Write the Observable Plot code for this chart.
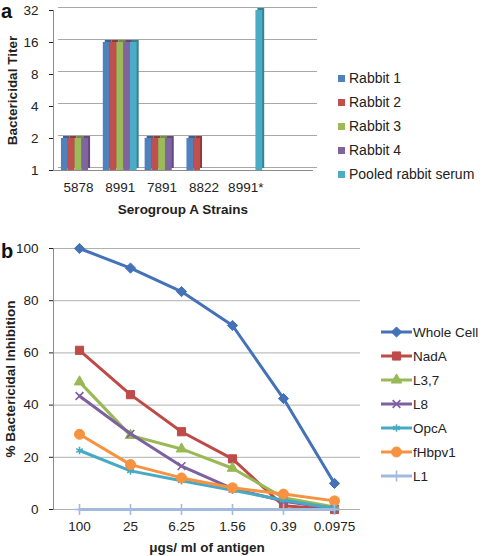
<!DOCTYPE html>
<html><head><meta charset="utf-8">
<script src="https://cdn.jsdelivr.net/npm/d3@7"></script>
<script src="https://cdn.jsdelivr.net/npm/@observablehq/plot@0.6"></script>
<style>
body{margin:0;background:#fff;font-family:"Liberation Sans",Arial,sans-serif;}
#wrap{position:relative;width:482px;height:556px;overflow:hidden;background:#fff}
.layer{position:absolute;left:0}
.panel{position:absolute;font-weight:bold;font-size:20px;line-height:1.15;color:#111}
.legend{position:absolute;color:#222}
.legend .row{display:flex;align-items:center;height:24px;white-space:nowrap}
#wrap svg g[aria-label$="axis label"] text{font-weight:bold}
</style></head><body><div id="wrap"></div>
<script>
// ---- Panel a data ----
const strains = ["5878","8991","7891","8822","8991*"];
const strainSlots = ["5878","8991","7891","8822","8991*",""];
const rabbitSeries = ["Rabbit 1","Rabbit 2","Rabbit 3","Rabbit 4","Pooled rabbit serum"];
const rabbit1 = [2,16,2,2,null];
const rabbit2 = [2,16,2,2,null];
const rabbit3 = [2,16,2,1,null];
const rabbit4 = [2,16,2,1,null];
const pooled  = [null,16,null,null,32];
const titerTicks = [1,2,4,8,16,32];

// ---- Panel b data ----
const doses = ["100","25","6.25","1.56","0.39","0.0975"];
const inhibitionSeries = ["Whole Cell","NadA","L3,7","L8","OpcA","fHbpv1","L1"];
const wholeCell = [100,92.5,83.5,70.5,42.5,10];
const nadA      = [61,44,29.8,19.4,1.4,0];
const l37       = [48.9,28.4,23.2,15.8,4.5,1];
const l8        = [43.5,29,16.6,8,3.2,0.4];
const opcA      = [22.6,14.8,11,7.4,3.6,0.4];
const fHbpv1    = [28.8,17.2,12.1,8.3,5.9,3.3];
const l1        = [0,0,0,0,0,0];
const inhibitionTicks = [0,20,40,60,80,100];

// ---- styles ----
const rabbitColors = ["#4F81BD","#C0504D","#9BBB59","#8064A2","#4BACC6"];
const lineColors = ["#4472B8","#BE4B48","#98B954","#7D60A0","#46AAC5","#F69240","#A2BBDD"];
const lineSymbols = ["diamond2","square","triangle","times","asterisk","circle","plus"];
const symbolRadius = [4.6,4.6,3.9,3.6,3.6,5,3.6];
const strokedSymbol = [false,false,false,true,true,false,true];
const font = '"Liberation Sans", Arial, sans-serif';

const wrap = document.getElementById("wrap");
const W = 482, H1 = 232, H2 = 324;

// ---- Panel a ----
const rabbitValues = [rabbit1, rabbit2, rabbit3, rabbit4, pooled];
const barRows = [];
strains.forEach((s, i) => rabbitSeries.forEach((r, j) => {
  const v = rabbitValues[j][i];
  if (v != null) barRows.push({strain: s, series: r, titer: v});
}));
const colorOf = Object.fromEntries(rabbitSeries.map((s, i) => [s, rabbitColors[i]]));
const dims1 = {width: W, height: H1, marginLeft: 53, marginRight: 170, marginTop: 10, marginBottom: 62};
const yTiter = {type: "log", base: 2, domain: [1, 32]};
const bandPad = {paddingInner: 0.19, paddingOuter: 0.19, round: false};

const gridA = Plot.plot({
  ...dims1,
  style: {fontFamily: font, fontSize: "13.5px", color: "#222", background: "transparent"},
  x: {type: "band", domain: strainSlots, ...bandPad, tickSize: 0, tickPadding: 12,
      label: "Serogroup A Strains", labelAnchor: "center", labelOffset: 43},
  y: {...yTiter, ticks: titerTicks, tickFormat: d => String(d), tickSize: 4, tickPadding: 11,
      label: "Bactericidal Titer", labelAnchor: "center", labelOffset: 46, labelArrow: false},
  marks: [
    Plot.ruleY(titerTicks, {stroke: "#a8a8a8", dx: 5, dy: -3}),
    Plot.frame({anchor: "left", stroke: "#8c8c8c"}),
    Plot.frame({anchor: "bottom", stroke: "#8c8c8c"})
  ]
});
gridA.classList.add("layer"); gridA.style.top = "0px";
wrap.appendChild(gridA);

const barsA = Plot.plot({
  ...dims1,
  style: {background: "transparent"},
  fx: {domain: strainSlots, ...bandPad, axis: null},
  x: {domain: rabbitSeries, padding: 0, round: false, axis: null},
  y: {...yTiter, axis: null},
  marks: [
    Plot.barY(barRows, {fx: "strain", x: "series", y1: () => 1, y2: "titer",
      fill: d => d3.color(colorOf[d.series]).darker(0.8).formatHex(), dx: 2, dy: -2}),
    Plot.barY(barRows, {fx: "strain", x: "series", y1: () => 1, y2: "titer",
      fill: d => colorOf[d.series]})
  ]
});
barsA.classList.add("layer"); barsA.style.top = "0px";
wrap.appendChild(barsA);

// ---- Panel b ----
const inhibitionValues = [wholeCell, nadA, l37, l8, opcA, fHbpv1, l1];
const lineRows = [];
inhibitionSeries.forEach((n, j) => doses.forEach((d, i) =>
  lineRows.push({series: n, dose: d, value: inhibitionValues[j][i]})));

const seriesMarks = inhibitionSeries.flatMap((n, j) => {
  const rows = lineRows.filter(r => r.series === n);
  const c = lineColors[j];
  return [
    Plot.line(rows, {x: "dose", y: "value", stroke: c, strokeWidth: 3}),
    Plot.dot(rows, {x: "dose", y: "value", symbol: lineSymbols[j], r: symbolRadius[j],
      fill: strokedSymbol[j] ? "none" : c, stroke: c, strokeWidth: strokedSymbol[j] ? 1.6 : 1})
  ];
});

const plotB = Plot.plot({
  width: W, height: H2, marginLeft: 53, marginRight: 122, marginTop: 16, marginBottom: 47,
  style: {fontFamily: font, fontSize: "13.5px", color: "#222", background: "transparent"},
  x: {type: "point", domain: doses, padding: 0.5, tickSize: 0, tickPadding: 12,
      label: "μgs/ ml of antigen", labelAnchor: "center", labelOffset: 42},
  y: {domain: [0, 100], ticks: inhibitionTicks, tickSize: 4, tickPadding: 11,
      label: "% Bactericidal Inhibition", labelAnchor: "center", labelOffset: 48, labelArrow: false},
  marks: [
    Plot.ruleY(inhibitionTicks, {stroke: "#b0b0b0"}),
    Plot.frame({anchor: "left", stroke: "#8c8c8c"}),
    ...seriesMarks
  ]
});
plotB.classList.add("layer"); plotB.style.top = "232px";
wrap.appendChild(plotB);

// ---- panel letters ----
for (const [t, top] of [["a", 0], ["b", 239.5]]) {
  const el = document.createElement("div");
  el.className = "panel"; el.textContent = t;
  el.style.left = "1px"; el.style.top = top + "px";
  wrap.appendChild(el);
}

// ---- legend a ----
const legA = document.createElement("div");
legA.className = "legend";
legA.style.left = "338px"; legA.style.top = "66px"; legA.style.fontSize = "14px";
rabbitSeries.forEach((s, i) => {
  const row = document.createElement("div"); row.className = "row";
  const sw = document.createElement("span");
  sw.style.cssText = `display:inline-block;width:7px;height:7px;background:${rabbitColors[i]};margin-right:4px`;
  row.appendChild(sw);
  row.appendChild(document.createTextNode(s));
  legA.appendChild(row);
});
wrap.appendChild(legA);

// ---- legend b ----
const legB = document.createElement("div");
legB.className = "legend";
legB.style.left = "381px"; legB.style.top = "320px"; legB.style.fontSize = "13.5px";
const symMap = {diamond2: d3.symbolDiamond2, square: d3.symbolSquare, triangle: d3.symbolTriangle,
  times: d3.symbolTimes, asterisk: d3.symbolAsterisk, circle: d3.symbolCircle, plus: d3.symbolPlus};
inhibitionSeries.forEach((n, j) => {
  const row = document.createElement("div"); row.className = "row";
  const svg = d3.create("svg").attr("width", 31).attr("height", 14).style("margin-right", "1px");
  svg.append("line").attr("x1", 0).attr("x2", 31).attr("y1", 7).attr("y2", 7)
    .attr("stroke", lineColors[j]).attr("stroke-width", 3);
  const r = symbolRadius[j];
  svg.append("path").attr("transform", "translate(15.5,7)")
    .attr("d", d3.symbol(symMap[lineSymbols[j]], Math.PI * r * r)())
    .attr("fill", strokedSymbol[j] ? "none" : lineColors[j])
    .attr("stroke", lineColors[j]).attr("stroke-width", strokedSymbol[j] ? 1.6 : 1);
  row.appendChild(svg.node());
  row.appendChild(document.createTextNode(n));
  legB.appendChild(row);
});
wrap.appendChild(legB);
</script></body></html>
